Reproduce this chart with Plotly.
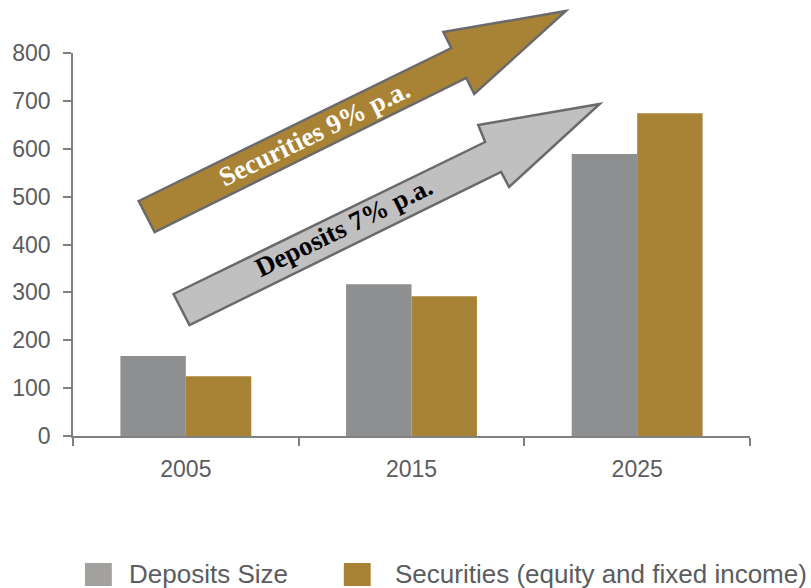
import plotly.graph_objects as go

# ---- data ----
years = ["2005", "2015", "2025"]
deposits = [167, 317, 589]
securities = [125, 292, 674]
series_names = ["Deposits Size", "Securities (equity and fixed income)"]
y_ticks = [0, 100, 200, 300, 400, 500, 600, 700, 800]

GOLD = "#A98335"
BAR_GRAY = "#8E8F91"
LEG_GRAY = "#A2A19D"
ARROW_GRAY = "#C0C0C0"
OUTLINE = "#6A6A6C"
TEXT = "#5B5C60"
AXIS = "#808080"

W, H = 811, 588
L, R, T, B = 70, 61, 53, 152
PW, PH = W - L - R, H - T - B


def px(x, y):
    return (x - L) / PW, (H - B - y) / PH


def path(points):
    pts = [px(x, y) for x, y in points]
    return "M " + " L ".join(f"{a:.5f},{b:.5f}" for a, b in pts) + " Z"


fig = go.Figure()
fig.add_trace(go.Bar(x=years, y=deposits, name=series_names[0],
                     marker=dict(color=BAR_GRAY, line=dict(width=0)), showlegend=False))
fig.add_trace(go.Bar(x=years, y=securities, name=series_names[1],
                     marker=dict(color=GOLD, line=dict(width=0)), showlegend=False))

gold_arrow = [(136, 201), (450, 48), (442, 32), (565, 11), (473, 94), (465, 78), (152, 232)]
gray_arrow = [(171, 294), (484, 142), (477, 125), (599, 104), (508, 187), (500, 172), (187, 325)]

shapes = [
    dict(type="path", xref="paper", yref="paper", path=path(gold_arrow),
         fillcolor=GOLD, line=dict(color=OUTLINE, width=2.5), layer="below"),
    dict(type="path", xref="paper", yref="paper", path=path(gray_arrow),
         fillcolor=ARROW_GRAY, line=dict(color=OUTLINE, width=2.5), layer="below"),
]

# manual legend
leg = [(82, LEG_GRAY, 124, series_names[0]), (342, GOLD, 391, series_names[1])]
annotations = []
for sx, col, tx, name in leg:
    x0, y0 = px(sx, 586)
    x1, y1 = px(sx + 27, 563)
    shapes.append(dict(type="rect", xref="paper", yref="paper", x0=x0, y0=y0, x1=x1, y1=y1,
                       fillcolor=col, line=dict(width=0)))
    ax, ay = px(tx, 574)
    annotations.append(dict(xref="paper", yref="paper", x=ax, y=ay, text=name, showarrow=False,
                            xanchor="left", yanchor="middle",
                            font=dict(family="Liberation Sans, Arial", size=26, color=TEXT)))

ax, ay = px(313, 133)
annotations.append(dict(xref="paper", yref="paper", x=ax, y=ay, text="<b>Securities 9% p.a.</b>",
                        showarrow=False, textangle=-26, xanchor="center", yanchor="middle",
                        font=dict(family="Liberation Serif, Times New Roman", size=27,
                                  color="#FFFFFF")))
ax, ay = px(342, 227)
annotations.append(dict(xref="paper", yref="paper", x=ax, y=ay, text="<b>Deposits 7% p.a.</b>",
                        showarrow=False, textangle=-26, xanchor="center", yanchor="middle",
                        font=dict(family="Liberation Serif, Times New Roman", size=27,
                                  color="#000000")))

fig.update_layout(
    width=W, height=H,
    margin=dict(l=L, r=R, t=T, b=B),
    paper_bgcolor="white", plot_bgcolor="rgba(0,0,0,0)",
    barmode="group", bargap=0.42, bargroupgap=0,
    shapes=shapes, annotations=annotations,
    font=dict(family="Liberation Sans, Arial", size=23, color=TEXT),
    xaxis=dict(type="category", tickson="boundaries", ticks="outside", ticklen=8,
               tickcolor=AXIS, tickwidth=1.5, showline=True, linecolor=AXIS, linewidth=1.5,
               showgrid=False, zeroline=False, ticklabelstandoff=12,
               tickfont=dict(size=23, color=TEXT)),
    yaxis=dict(range=[0, 800], tickvals=y_ticks, ticks="outside", ticklen=8,
               tickcolor=AXIS, tickwidth=1.5, showline=True, linecolor=AXIS, linewidth=1.5,
               showgrid=False, zeroline=False, ticklabelstandoff=8,
               tickfont=dict(size=23, color=TEXT)),
    showlegend=False,
)

fig.write_html("out.html")
